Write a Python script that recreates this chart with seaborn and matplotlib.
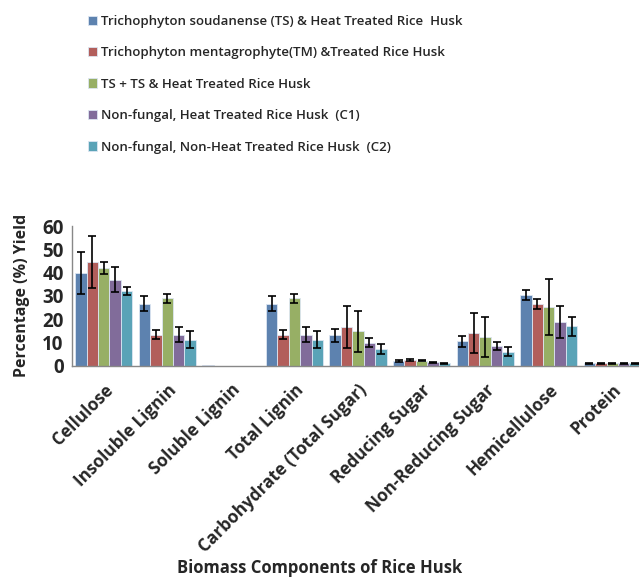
import numpy as np
import pandas as pd
import matplotlib
matplotlib.use("Agg")
import matplotlib.pyplot as plt
import seaborn as sns

components = ["Cellulose", "Insoluble Lignin", "Soluble Lignin", "Total Lignin",
              "Carbohydrate (Total Sugar)", "Reducing Sugar", "Non-Reducing Sugar",
              "Hemicellulose", "Protein"]

treatments = ["Trichophyton soudanense (TS) & Heat Treated Rice  Husk",
              "Trichophyton mentagrophyte(TM) &Treated Rice Husk",
              "TS + TS & Heat Treated Rice Husk",
              "Non-fungal, Heat Treated Rice Husk  (C1)",
              "Non-fungal, Non-Heat Treated Rice Husk  (C2)"]

# mean values per treatment, same order as components
ts_vals = [40.0, 26.7, 0.3, 26.7, 13.0, 2.0, 10.5, 30.4, 1.0]
tm_vals = [44.5, 13.3, 0.0, 13.3, 16.7, 2.4, 14.0, 26.5, 1.0]
tsts_vals = [42.0, 29.0, 0.0, 29.0, 14.8, 2.2, 12.4, 25.3, 1.0]
c1_vals = [37.0, 13.3, 0.0, 13.3, 9.9, 1.5, 8.5, 18.8, 1.0]
c2_vals = [32.0, 11.2, 0.0, 11.2, 7.2, 1.0, 6.0, 16.9, 1.0]

# error bar half-widths
ts_err = [9.0, 3.3, 0.0, 3.3, 2.7, 0.4, 2.4, 2.2, 0.2]
tm_err = [11.0, 2.0, 0.0, 2.0, 9.0, 0.4, 8.6, 2.2, 0.2]
tsts_err = [2.7, 2.0, 0.0, 2.0, 8.8, 0.3, 8.6, 12.0, 0.2]
c1_err = [5.3, 3.3, 0.0, 3.3, 2.0, 0.3, 1.8, 7.0, 0.2]
c2_err = [1.6, 3.5, 0.0, 3.5, 2.0, 0.2, 2.0, 4.2, 0.2]

colors = ["#4F81BD", "#C0504D", "#9BBB59", "#8064A2", "#4BACC6"]

all_vals = [ts_vals, tm_vals, tsts_vals, c1_vals, c2_vals]
all_errs = [ts_err, tm_err, tsts_err, c1_err, c2_err]

rows = []
for t, vals in zip(treatments, all_vals):
    for c, v in zip(components, vals):
        rows.append({"Component": c, "Treatment": t, "Value": v})
df = pd.DataFrame(rows)

sns.set_style("white")
plt.rcParams["font.family"] = ["Open Sans", "DejaVu Sans"]

fig = plt.figure(figsize=(6.39, 5.79), dpi=100)
ax = fig.add_axes([72 / 639, 1 - 365.7 / 579, 572 / 639, 139.7 / 579])

sns.barplot(data=df, x="Component", y="Value", hue="Treatment",
            hue_order=treatments, order=components, palette=colors,
            width=0.9, errorbar=None, ax=ax, legend=True,
            edgecolor="#dce6f2", linewidth=0.6)

# error bars on top of each bar
for container, errs in zip(ax.containers, all_errs):
    xs = [b.get_x() + b.get_width() / 2 for b in container]
    ys = [b.get_height() for b in container]
    keep = [i for i, e in enumerate(errs) if e > 0]
    ax.errorbar([xs[i] for i in keep], [ys[i] for i in keep],
                yerr=[errs[i] for i in keep], fmt="none", ecolor="black",
                elinewidth=1.2, capsize=3, capthick=1.2)

ax.set_ylim(0, 60)
ax.set_yticks([0, 10, 20, 30, 40, 50, 60])
ax.set_xlim(-0.5, len(components) - 0.5)
for s in ["top", "right"]:
    ax.spines[s].set_visible(False)
for s in ["left", "bottom"]:
    ax.spines[s].set_color("#888888")
    ax.spines[s].set_linewidth(1.0)

ax.set_xticks(range(len(components)))
ax.set_xticklabels(components, rotation=45, ha="right", rotation_mode="anchor",
                   fontsize=12.3, fontweight="bold")
ax.set_xticks(np.arange(-0.5, len(components)), minor=True)
ax.tick_params(axis="x", which="major", length=0, pad=11)
ax.tick_params(axis="x", which="minor", length=5, color="#888888", direction="out")
ax.tick_params(axis="y", length=4, color="#888888", direction="out", pad=2)
for lab in ax.get_yticklabels():
    lab.set_fontsize(13.5)
    lab.set_fontweight("bold")

ax.set_xlabel("")
ax.set_ylabel("Percentage (%) Yield", fontsize=11.5, fontweight="bold", labelpad=9)
fig.text(0.5, 0.004, "Biomass Components of Rice Husk", ha="center", va="bottom",
         fontsize=12, fontweight="bold")

handles, labels = ax.get_legend_handles_labels()
ax.get_legend().remove()
fig.legend(handles, labels, loc="upper left", bbox_to_anchor=(76 / 639, 0.995),
           frameon=False, handlelength=0.7, handleheight=0.7,
           handletextpad=0.3, labelspacing=1.4, prop={"weight": "semibold", "size": 9.5})

fig.savefig("out.png", dpi=100)
